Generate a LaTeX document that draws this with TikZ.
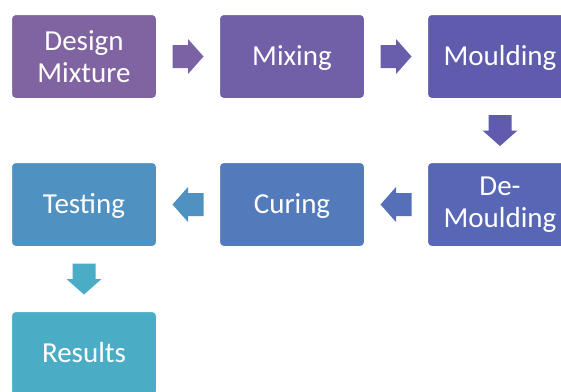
\documentclass[tikz,border=0pt]{standalone}
\usepackage{fontspec}
\setmainfont{Carlito}
\usetikzlibrary{calc}
\definecolor{c1}{RGB}{128,100,162}
\definecolor{c2}{RGB}{113,96,168}
\definecolor{c3}{RGB}{95,92,174}
\definecolor{c4}{RGB}{87,103,181}
\definecolor{c5}{RGB}{83,122,186}
\definecolor{c6}{RGB}{79,145,192}
\definecolor{c7}{RGB}{75,172,198}
\newcommand\blockarrow[3]{%
  \fill[#1, shift={(#2)}, rotate=#3] (-15.5,-11.5) -- (0,-11.5) -- (0,-17.5) -- (15.5,0) -- (0,17.5) -- (0,11.5) -- (-15.5,11.5) -- cycle;}
\begin{document}
\begin{tikzpicture}[x=1pt,y=1pt,
  stepbox/.style={draw=white, line width=3pt, rounded corners=5pt,
    minimum width=147pt, minimum height=86pt, inner sep=0pt,
    font=\fontsize{29}{32}\selectfont, text=white, align=center},
  oneline/.style={text height=18.5pt, text depth=0pt}]
\clip (0,0) rectangle (561,-391);
\fill[white] (0,0) rectangle (561,-391);
\node[stepbox, fill=c1] (dm) at (84,-56.5) {Design\\Mixture};
\node[stepbox, oneline, fill=c2] (mx) at (292,-56.5) {Mixing};
\node[stepbox, oneline, fill=c3] (mo) at (500,-56.5) {Moulding};
\node[stepbox, fill=c4] (de) at (500,-204.5) {De-\\Moulding};
\node[stepbox, oneline, fill=c5] (cu) at (292,-204.5) {Curing};
\node[stepbox, oneline, fill=c6] (te) at (84,-204.5) {Testing};
\node[stepbox, oneline, fill=c7] (re) at (84,-353.5) {Results};
\coordinate (a1) at ($(dm.east)!0.5!(mx.west)$);
\coordinate (a2) at ($(mx.east)!0.5!(mo.west)$);
\coordinate (a3) at ($(mo.south)!0.5!(de.north)$);
\coordinate (a4) at ($(de.west)!0.5!(cu.east)$);
\coordinate (a5) at ($(cu.west)!0.5!(te.east)$);
\coordinate (a6) at ($(te.south)!0.5!(re.north)$);
\blockarrow{c1!60!c2}{a1}{0}
\blockarrow{c2!50!c3}{a2}{0}
\blockarrow{c3}{a3}{-90}
\blockarrow{c4!50!c5}{a4}{180}
\blockarrow{c6}{a5}{180}
\blockarrow{c7}{a6}{-90}
\end{tikzpicture}
\end{document}
